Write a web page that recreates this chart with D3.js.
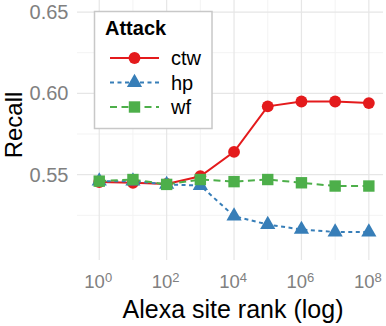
<!DOCTYPE html>
<html>
<head>
<meta charset="utf-8">
<script src="https://cdn.jsdelivr.net/npm/d3@7"></script>
<style>
  body { margin: 0; background: #fff; }
  svg { display: block; font-family: "Liberation Sans", Arial, sans-serif; }
</style>
</head>
<body>
<script>
"use strict";
// site rank exponents (10^k)
const ranks = [0, 1, 2, 3, 4, 5, 6, 7, 8];
const ctw = [0.5455, 0.5450, 0.5443, 0.5490, 0.5640, 0.5920, 0.5950, 0.5950, 0.5940];
const hp  = [0.5460, 0.5460, 0.5440, 0.5433, 0.5245, 0.5193, 0.5163, 0.5147, 0.5147];
const wf  = [0.5460, 0.5470, 0.5440, 0.5470, 0.5457, 0.5470, 0.5450, 0.5430, 0.5430];
const yTicks = [0.55, 0.60, 0.65];
const yMinor = [0.525, 0.575, 0.625];
const xTicks = [0, 2, 4, 6, 8];
const xMinor = [1, 3, 5, 7];

const series = [
  { name: "ctw", values: ctw, color: "#E41A1C", dash: null, shape: d3.symbolCircle, size: 110 },
  { name: "hp", values: hp, color: "#377EB8", dash: "4,3.5", shape: d3.symbolTriangle, size: 100 },
  { name: "wf", values: wf, color: "#4DAF4A", dash: "7,4.5", shape: d3.symbolSquare, size: 130 }
];

const width = 386, height = 326;
const panel = { left: 77, right: 383, top: 0, bottom: 260 };

const svg = d3.select("body").append("svg")
  .attr("width", width)
  .attr("height", height);

const x = d3.scaleLog()
  .domain([Math.pow(10, -0.66), Math.pow(10, 8.42)])
  .range([panel.left, panel.right]);
const y = d3.scaleLinear()
  .domain([0.4975, 0.6525])
  .range([260, 8]);

// grid
svg.append("g").selectAll("line")
  .data(yMinor).join("line")
  .attr("x1", panel.left).attr("x2", panel.right)
  .attr("y1", d => y(d)).attr("y2", d => y(d))
  .attr("stroke", "#f3f3f3").attr("stroke-width", 1);
svg.append("g").selectAll("line")
  .data(xMinor).join("line")
  .attr("x1", d => x(Math.pow(10, d))).attr("x2", d => x(Math.pow(10, d)))
  .attr("y1", panel.top).attr("y2", panel.bottom)
  .attr("stroke", "#f3f3f3").attr("stroke-width", 1);
svg.append("g").selectAll("line")
  .data(yTicks).join("line")
  .attr("x1", panel.left).attr("x2", panel.right)
  .attr("y1", d => y(d)).attr("y2", d => y(d))
  .attr("stroke", "#e6e6e6").attr("stroke-width", 1.2);
svg.append("g").selectAll("line")
  .data(xTicks).join("line")
  .attr("x1", d => x(Math.pow(10, d))).attr("x2", d => x(Math.pow(10, d)))
  .attr("y1", panel.top).attr("y2", panel.bottom)
  .attr("stroke", "#e6e6e6").attr("stroke-width", 1.2);

// tick labels
svg.append("g").selectAll("text")
  .data(yTicks).join("text")
  .attr("x", 68.5)
  .attr("y", d => y(d) + 7)
  .attr("text-anchor", "end")
  .attr("fill", "#808080")
  .style("font-size", "20px")
  .text(d => d3.format(".2f")(d));

const xl = svg.append("g").selectAll("text")
  .data(xTicks).join("text")
  .attr("x", d => x(Math.pow(10, d)) - 1)
  .attr("y", 288)
  .attr("text-anchor", "middle")
  .attr("fill", "#808080")
  .style("font-size", "18.5px");
xl.append("tspan").text("10");
xl.append("tspan")
  .attr("dy", -6.5)
  .style("font-size", "13px")
  .text(d => d);

// axis titles
svg.append("text")
  .attr("x", 233).attr("y", 318)
  .attr("text-anchor", "middle")
  .style("font-size", "25px")
  .text("Alexa site rank (log)");
svg.append("text")
  .attr("transform", "translate(22,125)rotate(-90)")
  .attr("text-anchor", "middle")
  .style("font-size", "24px")
  .text("Recall");

// lines and points
const line = d3.line()
  .x((d, i) => x(Math.pow(10, ranks[i])))
  .y(d => y(d));

series.forEach(s => {
  svg.append("path")
    .datum(s.values)
    .attr("d", line)
    .attr("fill", "none")
    .attr("stroke", s.color)
    .attr("stroke-width", 2)
    .attr("stroke-dasharray", s.dash);
});
series.forEach(s => {
  svg.append("g").selectAll("path")
    .data(s.values).join("path")
    .attr("transform", (d, i) => `translate(${x(Math.pow(10, ranks[i]))},${y(d)})`)
    .attr("d", d3.symbol().type(s.shape).size(s.size))
    .attr("fill", s.color);
});

// legend
const lg = svg.append("g");
lg.append("rect")
  .attr("x", 94.5).attr("y", 11.5)
  .attr("width", 117.5).attr("height", 117)
  .attr("fill", "#fff")
  .attr("stroke", "#c8c8c8")
  .attr("stroke-width", 1.5);
lg.append("text")
  .attr("x", 105).attr("y", 35)
  .style("font-size", "20px")
  .style("font-weight", "bold")
  .text("Attack");
series.forEach((s, i) => {
  const cy = 58 + i * 24.5;
  lg.append("line")
    .attr("x1", 110).attr("x2", 159)
    .attr("y1", cy).attr("y2", cy)
    .attr("stroke", s.color)
    .attr("stroke-width", 2)
    .attr("stroke-dasharray", s.dash);
  lg.append("path")
    .attr("transform", `translate(134.5,${cy})`)
    .attr("d", d3.symbol().type(s.shape).size(s.size))
    .attr("fill", s.color);
  lg.append("text")
    .attr("x", 171).attr("y", cy + 7)
    .style("font-size", "20px")
    .text(s.name);
});
</script>
</body>
</html>
